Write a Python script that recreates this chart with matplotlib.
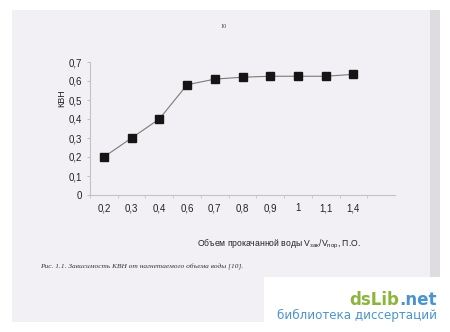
import matplotlib
matplotlib.use("Agg")
import matplotlib.pyplot as plt
from matplotlib.patches import Rectangle

# data
categories = ['0,2', '0,3', '0,4', '0,6', '0,7', '0,8', '0,9', '1', '1,1', '1,4']
kvn = [0.20, 0.30, 0.40, 0.58, 0.61, 0.62, 0.625, 0.625, 0.625, 0.635]
y_ticks = [0, 0.1, 0.2, 0.3, 0.4, 0.5, 0.6, 0.7]
y_tick_labels = ['0', '0,1', '0,2', '0,3', '0,4', '0,5', '0,6', '0,7']

plt.rcParams['font.family'] = ['Liberation Sans', 'DejaVu Sans']
plt.rcParams['mathtext.fontset'] = 'custom'
plt.rcParams['mathtext.rm'] = 'Liberation Sans'
plt.rcParams['mathtext.it'] = 'Liberation Sans'

W, H = 450, 332
fig = plt.figure(figsize=(W / 100, H / 100), dpi=100, facecolor='white')

# scanned page background
fig.patches.append(Rectangle((12 / W, 10 / H), 428 / W, 312 / H, transform=fig.transFigure,
                             facecolor='#f2f0f4', edgecolor='none', zorder=0))
fig.patches.append(Rectangle((430 / W, 10 / H), 10 / W, 312 / H, transform=fig.transFigure,
                             facecolor='#dedce0', edgecolor='none', zorder=0))

ax = fig.add_axes([90 / W, 1 - 195 / H, 305 / W, 133 / H])
ax.set_zorder(2)
ax.set_facecolor('none')

x = list(range(len(categories)))
ax.plot(x, kvn, color='#7a7a7a', lw=0.8, marker='s', ms=6,
        markerfacecolor='#151515', markeredgecolor='#151515', zorder=3)

ax.set_xlim(-0.5, len(categories) + 0.5)
ax.set_ylim(0, 0.7)
ax.set_xticks(x)
ax.set_xticklabels(categories)
ax.set_xticks([i + 0.5 for i in range(-1, len(categories))], minor=True)
ax.set_yticks(y_ticks)
ax.set_yticklabels(y_tick_labels)

for s in ['top', 'right']:
    ax.spines[s].set_visible(False)
for s in ['left', 'bottom']:
    ax.spines[s].set_color('#c4c2c6')
    ax.spines[s].set_linewidth(0.8)

ax.tick_params(axis='x', which='major', length=0, pad=6, labelsize=7, labelcolor='#222222')
ax.tick_params(axis='x', which='minor', length=2.5, color='#c4c2c6', direction='out')
ax.tick_params(axis='y', length=2.5, color='#c4c2c6', pad=3, labelsize=7, labelcolor='#222222')

ax.set_ylabel('КВН', fontsize=6.5, color='#222222')
ax.yaxis.set_label_coords(-0.078, 0.73)
ax.set_xlabel(r'Объем прокачанной воды V$_{\mathregular{зак}}$/V$_{\mathregular{пор}}$, П.О.',
              fontsize=6.2, color='#222222')
ax.xaxis.set_label_coords(0.62, -0.32)

# page number and caption
fig.text(224 / W, 1 - 27 / H, '10', fontsize=4.5, family='Liberation Serif',
         color='#444444', ha='center', va='center')
fig.text(40 / W, 1 - 267 / H, 'Рис. 1.1. Зависимость КВН от нагнетаемого объема воды [10].',
         fontsize=5.3, family='Liberation Serif', style='italic', color='#333333',
         ha='left', va='center')

# site watermark
fig.patches.append(Rectangle((264 / W, 0), 186 / W, 55 / H, transform=fig.transFigure,
                             facecolor='white', edgecolor='none', zorder=1))
net = fig.text(437 / W, 1 - 305 / H, '.net', fontsize=12, weight='bold',
               family='DejaVu Sans', color='#4a94cc', ha='right', va='baseline')
fig.canvas.draw()
bb = net.get_window_extent()
fig.text(bb.x0 / W, 1 - 305 / H, 'dsLib', fontsize=12, weight='bold',
         family='DejaVu Sans', color='#8db43c', ha='right', va='baseline')
fig.text(437 / W, 1 - 319 / H, 'библиотека диссертаций', fontsize=8.6,
         family='DejaVu Sans', color='#4a94cc', ha='right', va='baseline')

fig.savefig('out.png', dpi=100, facecolor=fig.get_facecolor())
